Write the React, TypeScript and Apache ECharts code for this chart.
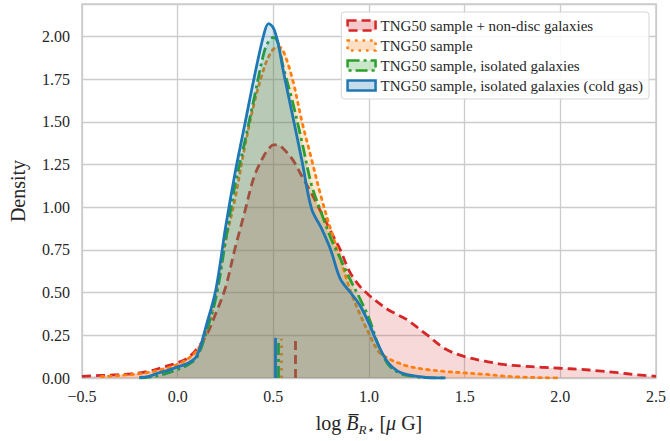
import React, { useEffect, useRef } from "react";
import * as echarts from "echarts";

const xs = [-0.5, -0.4, -0.3, -0.2, -0.15, -0.1, -0.05, 0, 0.05, 0.1, 0.15, 0.2, 0.25, 0.3, 0.35, 0.4, 0.45, 0.475, 0.5, 0.525, 0.55, 0.6, 0.65, 0.7, 0.75, 0.8, 0.85, 0.9, 0.95, 1.0, 1.05, 1.1, 1.15, 1.2, 1.3, 1.4, 1.5, 1.6, 1.7, 1.8, 1.9, 2.0, 2.1, 2.2, 2.3, 2.4, 2.5];

const redY = [0.01, 0.015, 0.02, 0.03, 0.04, 0.055, 0.072, 0.09, 0.115, 0.17, 0.25, 0.38, 0.53, 0.76, 0.97, 1.18, 1.3, 1.34, 1.365, 1.365, 1.345, 1.28, 1.18, 1.08, 0.97, 0.86, 0.75, 0.62, 0.54, 0.485, 0.44, 0.4, 0.37, 0.34, 0.255, 0.17, 0.125, 0.1, 0.08, 0.07, 0.063, 0.057, 0.051, 0.042, 0.031, 0.019, 0.01];
const orangeY = [null, 0.008, 0.015, 0.025, 0.033, 0.045, 0.06, 0.08, 0.11, 0.16, 0.27, 0.49, 0.8, 1.05, 1.35, 1.61, 1.81, 1.88, 1.925, 1.94, 1.92, 1.75, 1.5, 1.28, 1.06, 0.87, 0.7, 0.52, 0.38, 0.26, 0.155, 0.115, 0.09, 0.07, 0.05, 0.038, 0.03, 0.022, 0.012, 0.005, 0.002, 0, null, null, null, null, null];
const greenY = [null, null, null, 0, 0.005, 0.015, 0.03, 0.05, 0.075, 0.12, 0.27, 0.47, 0.8, 1.13, 1.38, 1.64, 1.9, 1.97, 1.995, 1.96, 1.83, 1.62, 1.38, 1.13, 0.97, 0.82, 0.7, 0.58, 0.47, 0.35, 0.19, 0.08, 0.035, 0.015, 0.002, 0, null, null, null, null, null, null, null, null, null, null, null];
const blueY = [null, null, null, 0.003, 0.01, 0.03, 0.045, 0.065, 0.085, 0.13, 0.31, 0.52, 0.88, 1.2, 1.48, 1.76, 2.01, 2.075, 2.05, 1.96, 1.81, 1.54, 1.27, 0.99, 0.88, 0.75, 0.58, 0.505, 0.43, 0.32, 0.19, 0.09, 0.04, 0.02, 0.003, 0, null, null, null, null, null, null, null, null, null, null, null];

const seriesNames = [
  "TNG50 sample + non-disc galaxies",
  "TNG50 sample",
  "TNG50 sample, isolated galaxies",
  "TNG50 sample, isolated galaxies (cold gas)",
];
const medians = [0.616, 0.543, 0.525, 0.508];
const medianTops = [0.22, 0.23, 0.23, 0.235];

const colors = ["#d62728", "#ff7f0e", "#2ca02c", "#1f77b4"];
const fills = ["rgba(214,39,40,0.25)", "rgba(255,127,14,0.25)", "rgba(44,160,44,0.25)", "rgba(31,119,180,0.25)"];
const dashes: any[] = [[9, 5], [2.5, 5], [12, 4, 3, 4], "solid"];

const FONT = "'Liberation Serif', 'DejaVu Serif', serif";

export default function App() {
  const ref = useRef<HTMLDivElement>(null);
  useEffect(() => {
    document.body.style.margin = "0";
    if (!ref.current) return;
    const chart = echarts.init(ref.current, undefined, { renderer: "svg" });
    const allY = [redY, orangeY, greenY, blueY];
    const series = allY.map((ys, k) => ({
      name: seriesNames[k],
      type: "line",
      z: 2 + k,
      smooth: 0.35,
      showSymbol: false,
      symbol: "none",
      data: xs.map((x, i) => [x, ys[i]]).filter((p) => p[1] !== null),
      lineStyle: { color: colors[k], width: 2.8, type: dashes[k], cap: k === 1 ? "round" : "butt" },
      itemStyle: { color: colors[k] },
      areaStyle: { color: fills[k], origin: "start" },
      markLine: {
        symbol: "none",
        silent: true,
        z: 2 + k,
        label: { show: false },
        lineStyle: { color: colors[k], width: 2.8, type: dashes[k] },
        data: [[{ coord: [medians[k], 0] }, { coord: [medians[k], medianTops[k]] }]],
      },
    }));
    chart.setOption({
      animation: false,
      grid: { left: 80, right: 14, top: 4, bottom: 60, show: true, borderColor: "#cccccc", borderWidth: 1.5 },
      xAxis: {
        type: "value",
        min: -0.5,
        max: 2.5,
        interval: 0.5,
        axisLine: { show: false },
        axisTick: { show: false },
        splitLine: { show: true, lineStyle: { color: "#cccccc", width: 1.3 } },
        axisLabel: {
          margin: 10,
          fontFamily: FONT,
          fontSize: 16,
          color: "#262626",
          formatter: (v: number) => (v < 0 ? "\u2212" : "") + Math.abs(v).toFixed(1),
        },
        name: "{n|log }{b|B\u0305}{s|R\u22c6}{n| [}{b|\u03bc}{n| G]}",
        nameLocation: "middle",
        nameGap: 32,
        nameTextStyle: {
          rich: {
            n: { fontFamily: FONT, fontSize: 20, color: "#262626", lineHeight: 26, verticalAlign: "middle" },
            b: { fontFamily: FONT, fontSize: 20, fontStyle: "italic", color: "#262626", lineHeight: 26, verticalAlign: "middle" },
            s: { fontFamily: FONT, fontSize: 13, fontStyle: "italic", color: "#262626", lineHeight: 13, verticalAlign: "bottom" },
          },
        },
      },
      yAxis: {
        type: "value",
        min: 0,
        max: 2.19,
        interval: 0.25,
        axisLine: { show: false },
        axisTick: { show: false },
        splitLine: { show: true, lineStyle: { color: "#cccccc", width: 1.3 } },
        axisLabel: {
          margin: 12,
          fontFamily: FONT,
          fontSize: 16,
          color: "#262626",
          showMaxLabel: false,
          formatter: (v: number) => (Math.abs(v / 0.25 - Math.round(v / 0.25)) < 1e-6 ? v.toFixed(2) : ""),
        },
        name: "Density",
        nameLocation: "middle",
        nameGap: 54,
        nameTextStyle: { fontFamily: FONT, fontSize: 20, color: "#262626" },
      },
      legend: {
        top: 12,
        right: 21,
        orient: "vertical",
        icon: "rect",
        itemWidth: 28,
        itemHeight: 10,
        itemGap: 5,
        padding: [6, 6, 6, 5],
        borderColor: "#d6d6d6",
        borderWidth: 1,
        borderRadius: 3,
        backgroundColor: "rgba(255,255,255,0.85)",
        textStyle: { fontFamily: FONT, fontSize: 15, color: "#262626" },
        data: seriesNames.map((n, k) => ({
          name: n,
          itemStyle: { color: fills[k], borderColor: colors[k], borderWidth: 2.5, borderType: dashes[k] },
        })),
      },
      series,
    });
    return () => chart.dispose();
  }, []);
  return <div ref={ref} style={{ width: 670, height: 441 }} />;
}
